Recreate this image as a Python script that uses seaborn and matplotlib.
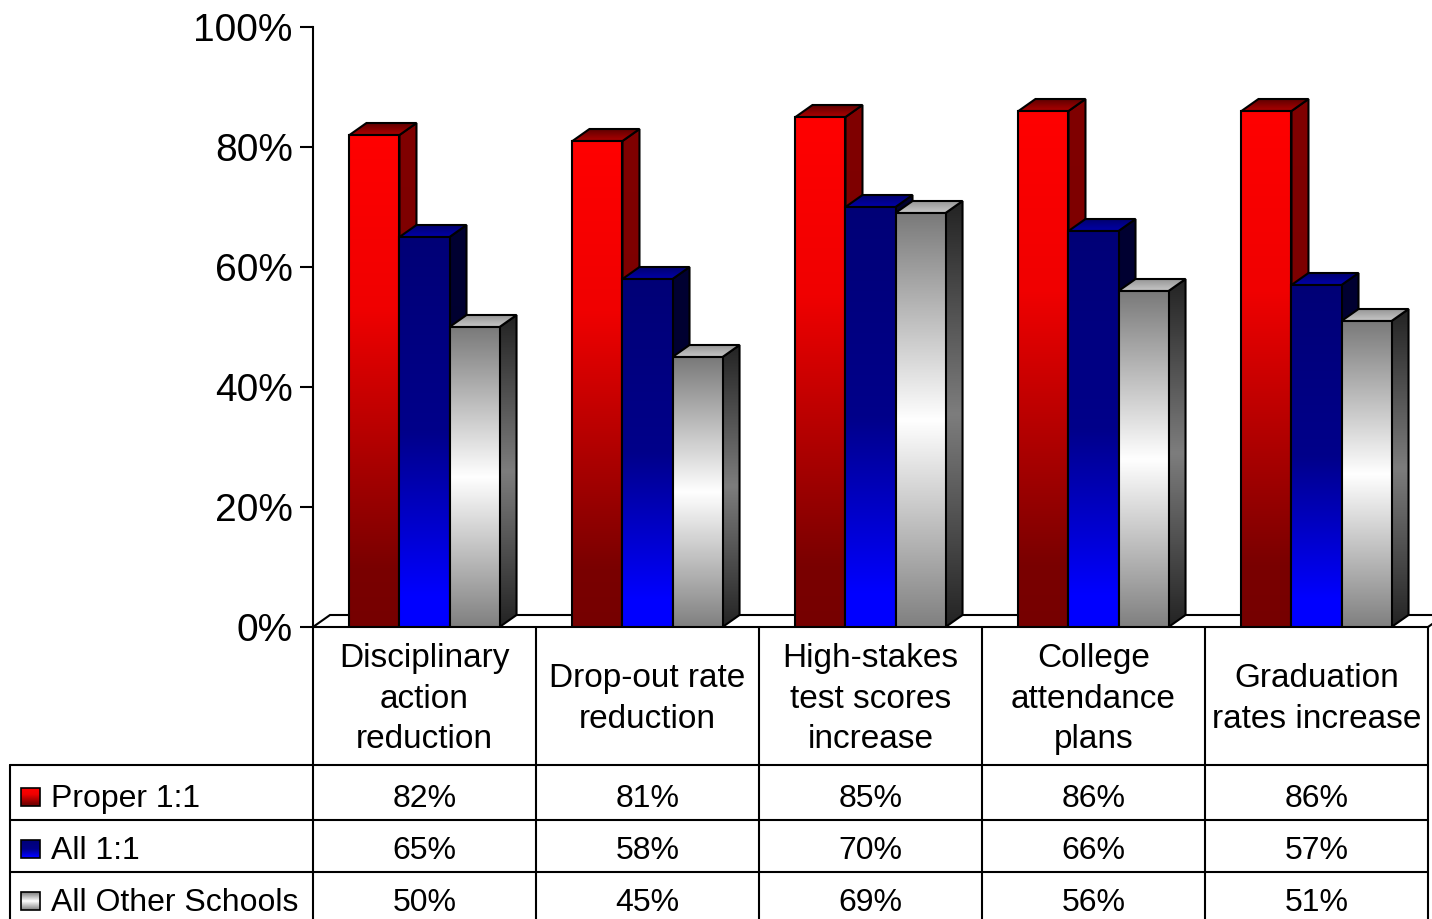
import numpy as np
import pandas as pd
import matplotlib
matplotlib.use("Agg")
import matplotlib.pyplot as plt
from matplotlib.patches import Polygon, Rectangle
import seaborn as sns

# ---- data ----
categories = [
    "Disciplinary\naction\nreduction",
    "Drop-out rate\nreduction",
    "High-stakes\ntest scores\nincrease",
    "College\nattendance\nplans",
    "Graduation\nrates increase",
]
series = ["Proper 1:1", "All 1:1", "All Other Schools"]
proper_one_to_one = [82, 81, 85, 86, 86]
all_one_to_one = [65, 58, 70, 66, 57]
all_other_schools = [50, 45, 69, 56, 51]
yticks = [0, 20, 40, 60, 80, 100]

values = [proper_one_to_one, all_one_to_one, all_other_schools]
df = pd.DataFrame(
    [(c, s, v) for s, vals in zip(series, values) for c, v in zip(categories, vals)],
    columns=["category", "series", "value"],
)

sns.set_theme(style="white")
plt.rcParams["font.family"] = ["Liberation Sans", "DejaVu Sans"]

W, H = 1432, 919
fig = plt.figure(figsize=(W / 100, H / 100), dpi=100)
fig.patch.set_facecolor("white")

# plot box (pixels)
L, R, T, B = 313, 1428, 27, 627
ax = fig.add_axes([L / W, 1 - B / H, (R - L) / W, (B - T) / H])

palette = {"Proper 1:1": "#ff0000", "All 1:1": "#000080", "All Other Schools": "#c0c0c0"}
sns.barplot(
    data=df, x="category", y="value", hue="series",
    order=categories, hue_order=series, palette=palette, saturation=1,
    width=0.673, gap=0, edgecolor="black", linewidth=1.5, legend=False, ax=ax,
)


def ramp(stops, n=256):
    """Vertical colour ramp; stops are (t, rgb) with t=0 at the top."""
    t = np.linspace(0, 1, n)
    pos = [s[0] for s in stops]
    arr = np.zeros((n, 1, 3))
    for c in range(3):
        arr[:, 0, c] = np.interp(t, pos, [s[1][c] for s in stops])
    return arr / 255.0


front_ramps = {
    "Proper 1:1": ramp([(0, (255, 0, 0)), (0.35, (240, 0, 0)), (0.88, (122, 0, 0)), (1, (118, 0, 0))]),
    "All 1:1": ramp([(0, (0, 0, 118)), (0.5, (0, 0, 138)), (0.92, (0, 0, 255)), (1, (0, 0, 255))]),
    "All Other Schools": ramp([(0, (122, 122, 122)), (0.5, (255, 255, 255)), (1, (128, 128, 128))]),
}
side_ramps = {
    "Proper 1:1": ramp([(0, (128, 0, 0)), (1, (120, 0, 0))]),
    "All 1:1": ramp([(0, (0, 0, 50)), (1, (0, 0, 45))]),
    "All Other Schools": ramp([(0, (35, 35, 35)), (0.5, (125, 125, 125)), (1, (35, 35, 35))]),
}
top_ramps = {
    "Proper 1:1": ramp([(0, (95, 0, 0)), (1, (175, 0, 0))]),
    "All 1:1": ramp([(0, (0, 0, 110)), (1, (0, 0, 170))]),
    "All Other Schools": ramp([(0, (150, 150, 150)), (1, (200, 200, 200))]),
}

# depth of the 3-D extrusion in data units (x: category units, y: percent)
dx, dy = 0.0762, 2.0


def color_to_series(fc):
    rgb = np.array(fc[:3])
    best = None
    for s, col in palette.items():
        d = np.abs(rgb - np.array(matplotlib.colors.to_rgb(col))).sum()
        if best is None or d < best[0]:
            best = (d, s)
    return best[1]


bars = list(ax.patches)
for p in bars:
    s = color_to_series(p.get_facecolor())
    k = series.index(s)
    z = 3 + k
    x0, w, h = p.get_x(), p.get_width(), p.get_height()
    x1 = x0 + w

    side = Polygon([(x1, 0), (x1 + dx, dy), (x1 + dx, h + dy), (x1, h)], closed=True,
                   facecolor="none", edgecolor="black", lw=1.5, zorder=z + 0.15,
                   joinstyle="miter")
    ax.add_patch(side)
    im = ax.imshow(side_ramps[s], extent=(x1, x1 + dx, 0, h + dy), aspect="auto",
                   origin="upper", interpolation="bilinear", zorder=z + 0.1)
    im.set_clip_path(side)

    top = Polygon([(x0, h), (x0 + dx, h + dy), (x1 + dx, h + dy), (x1, h)], closed=True,
                  facecolor="none", edgecolor="black", lw=1.5, zorder=z + 0.25,
                  joinstyle="miter")
    ax.add_patch(top)
    im = ax.imshow(top_ramps[s], extent=(x0, x1 + dx, h, h + dy), aspect="auto",
                   origin="upper", interpolation="bilinear", zorder=z + 0.2)
    im.set_clip_path(top)

    ax.imshow(front_ramps[s], extent=(x0, x1, 0, h), aspect="auto",
              origin="upper", interpolation="bilinear", zorder=z + 0.5)
    p.set_facecolor("none")
    p.set_zorder(z + 0.6)
    p.set_joinstyle("miter")

ax.set_xlim(-0.5, 4.5)
ax.set_ylim(0, 100)

# floor outline
ax.plot([-0.5, -0.5 + dx, 4.5 + dx], [0, dy, dy], color="black", lw=1.5,
        clip_on=False, zorder=2, solid_joinstyle="miter")
ax.plot([4.5, 4.5 + dx], [0, dy], color="black", lw=1.5, clip_on=False, zorder=2)

for side_name in ["top", "right"]:
    ax.spines[side_name].set_visible(False)
for side_name in ["left", "bottom"]:
    ax.spines[side_name].set_visible(True)
    ax.spines[side_name].set_color("black")
    ax.spines[side_name].set_linewidth(1.5)
ax.set_yticks(yticks)
ax.set_yticklabels([f"{v}%" for v in yticks], fontsize=28, color="black")
ax.tick_params(axis="y", direction="out", length=9.5, width=1.5, color="black",
               pad=5, left=True)
ax.set_xticks([])
ax.set_xlabel("")
ax.set_ylabel("")
ax.grid(False)

# ---- data table below the chart ----
tab = fig.add_axes([0, 0, 1, 1])
tab.set_xlim(0, W)
tab.set_ylim(H, 0)
tab.axis("off")
tab.patch.set_visible(False)

col_w = (R - L) / len(categories)
col_edges = [L + i * col_w for i in range(len(categories) + 1)]
row_lines = [765, 820, 872]
table_left = 10
lw = 1.5

for x in col_edges:
    tab.plot([x, x], [B, H + 2], color="black", lw=lw, clip_on=False)
tab.plot([table_left, table_left], [row_lines[0], H + 2], color="black", lw=lw, clip_on=False)
for y in row_lines:
    tab.plot([table_left, R], [y, y], color="black", lw=lw)

for i, c in enumerate(categories):
    tab.text(col_edges[i] + col_w / 2, 699, c, ha="center", va="center",
             multialignment="center", fontsize=24, linespacing=1.39, color="black")

baselines = [807, 859, 911]
for s, vals, yb in zip(series, values, baselines):
    key = front_ramps[s]
    tab.imshow(key, extent=(21, 40, yb - 1, yb - 19), aspect="auto", origin="upper",
               interpolation="bilinear", zorder=3)
    tab.add_patch(Rectangle((21, yb - 19), 19, 18, facecolor="none", edgecolor="black",
                            lw=1.2, zorder=4))
    tab.text(51, yb, s, ha="left", va="baseline", fontsize=23, color="black")
    for i, v in enumerate(vals):
        tab.text(col_edges[i] + col_w / 2, yb, f"{v}%", ha="center", va="baseline",
                 fontsize=23, color="black")
tab.set_xlim(0, W)
tab.set_ylim(H, 0)

fig.savefig("out.png", dpi=100, facecolor="white")
